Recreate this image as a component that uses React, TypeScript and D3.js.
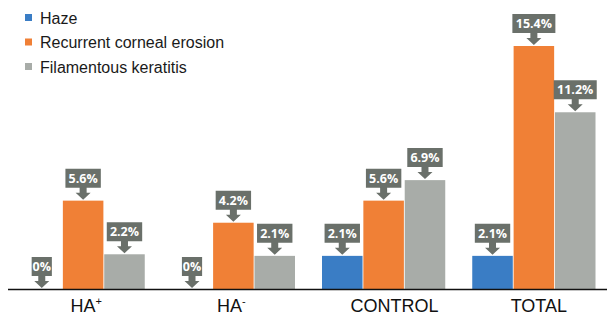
import { useEffect, useRef } from 'react'
import * as d3 from 'd3'

const groups = ['HA+', 'HA-', 'CONTROL', 'TOTAL']
const series = ['Haze', 'Recurrent corneal erosion', 'Filamentous keratitis']
const haze = [0, 0, 2.1, 2.1]
const erosion = [5.6, 4.2, 5.6, 15.4]
const keratitis = [2.2, 2.1, 6.9, 11.2]
const labelText = [
  ['0%', '0%', '2.1%', '2.1%'],
  ['5.6%', '4.2%', '5.6%', '15.4%'],
  ['2.2%', '2.1%', '6.9%', '11.2%'],
]

const COLORS = ['#3a7dc5', '#f08036', '#a8aca8']
const CALLOUT = '#6a706a'
const LABEL_NUDGE = [3, -2, 11, 5]
const W = 609
const H = 317

export default function App() {
  const svgRef = useRef<SVGSVGElement>(null)

  useEffect(() => {
    const svg = d3.select(svgRef.current)
    svg.selectAll('*').remove()

    const baseY = 289
    const values = [haze, erosion, keratitis]

    const x0 = d3.scaleBand(groups, [8, W])
    const x1 = d3.scaleBand(series, [13.5, x0.bandwidth() - 13.5]).paddingInner(0.02)
    const y = d3.scaleLinear([0, 15.4], [baseY, 46])

    // ── Bars ──────────────────────────────────────────────────────────────
    series.forEach((s, si) => {
      groups.forEach((g, gi) => {
        const v = values[si][gi]
        const bx = x0(g)! + x1(s)!
        svg.append('rect')
          .attr('x', bx).attr('y', y(v))
          .attr('width', x1.bandwidth()).attr('height', baseY - y(v))
          .attr('fill', COLORS[si])
      })
    })

    // ── Axis line ─────────────────────────────────────────────────────────
    svg.append('line')
      .attr('x1', 8).attr('x2', W - 2)
      .attr('y1', baseY + 0.5).attr('y2', baseY + 0.5)
      .attr('stroke', '#111').attr('stroke-width', 1.3)

    // ── Callouts ──────────────────────────────────────────────────────────
    series.forEach((s, si) => {
      groups.forEach((g, gi) => {
        const v = values[si][gi]
        const cx = x0(g)! + x1(s)! + x1.bandwidth() / 2
        const ty = y(v) - 1
        const txt = labelText[si][gi]
        const bw = txt.length * 7.6 + 5
        const bh = 19
        const bBot = ty - 12
        const p = d3.path()
        p.moveTo(cx - bw / 2, bBot - bh)
        p.lineTo(cx + bw / 2, bBot - bh)
        p.lineTo(cx + bw / 2, bBot)
        p.lineTo(cx + 3.5, bBot)
        p.lineTo(cx + 3.5, ty - 7)
        p.lineTo(cx + 7.5, ty - 7)
        p.lineTo(cx, ty)
        p.lineTo(cx - 7.5, ty - 7)
        p.lineTo(cx - 3.5, ty - 7)
        p.lineTo(cx - 3.5, bBot)
        p.lineTo(cx - bw / 2, bBot)
        p.closePath()
        svg.append('path').attr('d', p.toString()).attr('fill', CALLOUT)
        svg.append('text')
          .attr('x', cx).attr('y', bBot - 5)
          .attr('text-anchor', 'middle')
          .attr('font-family', '"Open Sans", sans-serif')
          .attr('font-weight', 700).attr('font-size', 12.5)
          .attr('fill', '#fff')
          .text(txt)
      })
    })

    // ── Group labels ──────────────────────────────────────────────────────
    groups.forEach((g, gi) => {
      const t = svg.append('text')
        .attr('x', x0(g)! + x0.bandwidth() / 2 + LABEL_NUDGE[gi]).attr('y', 312)
        .attr('text-anchor', 'middle')
        .attr('font-family', '"Liberation Sans", Arial, sans-serif')
        .attr('font-size', 18).attr('fill', '#111')
      const sup = g.endsWith('+') || g.endsWith('-')
      if (sup) {
        t.append('tspan').text(g.slice(0, -1))
        t.append('tspan').attr('font-size', 11).attr('dy', -7).text(g.endsWith('+') ? '+' : '-')
      } else {
        t.text(g)
      }
    })

    // ── Legend ────────────────────────────────────────────────────────────
    series.forEach((s, si) => {
      const ly = 18 + si * 24.5
      svg.append('rect')
        .attr('x', 25).attr('y', ly - 4).attr('width', 7).attr('height', 7)
        .attr('fill', COLORS[si])
      svg.append('text')
        .attr('x', 40).attr('y', ly + 5.5)
        .attr('font-family', '"Liberation Sans", Arial, sans-serif')
        .attr('font-size', 16).attr('fill', '#1a1a1a')
        .text(s)
    })
  }, [])

  return (
    <svg ref={svgRef} width={W} height={H}
      style={{ position: 'absolute', left: 0, top: 0, background: '#fff' }} />
  )
}
